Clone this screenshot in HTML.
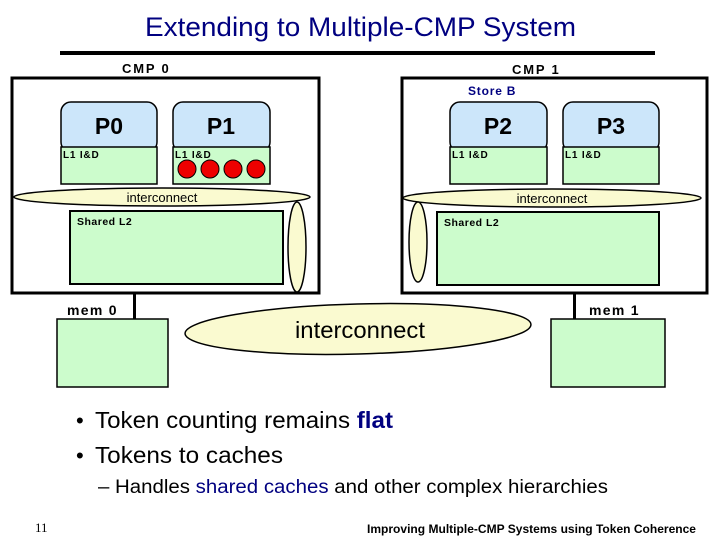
<!DOCTYPE html>
<html><head><meta charset="utf-8"><style>
html,body{margin:0;padding:0;background:#fff;}
svg{display:block;}
.b{font-family:"Liberation Sans",Arial,sans-serif;font-weight:bold;}
.r{font-family:"Liberation Sans",Arial,sans-serif;}
</style></head><body>
<svg width="720" height="540" viewBox="0 0 720 540" xmlns="http://www.w3.org/2000/svg">
<text x="145" y="36" class="r" font-size="27" fill="#000080" textLength="431" lengthAdjust="spacingAndGlyphs">Extending to Multiple-CMP System</text>
<rect x="60" y="51" width="595" height="4" fill="#000"/>
<text x="122" y="73" class="b" font-size="13" letter-spacing="1.8">CMP 0</text>
<text x="512" y="74" class="b" font-size="13" letter-spacing="1.8">CMP 1</text>
<!-- CMP0 -->
<rect x="12" y="78" width="307" height="215" fill="#fff" stroke="#000" stroke-width="3"/>
<rect x="61" y="102" width="96" height="50" rx="10" fill="#cce6fa" stroke="#000" stroke-width="1.5"/>
<rect x="61" y="147" width="96" height="37" fill="#ccfccc" stroke="#000" stroke-width="1.5"/>
<text x="109" y="134" class="b" font-size="23" text-anchor="middle">P0</text>
<text x="63" y="158" class="b" font-size="10" letter-spacing="0.8">L1 I&amp;D</text>
<rect x="173" y="102" width="97" height="50" rx="10" fill="#cce6fa" stroke="#000" stroke-width="1.5"/>
<rect x="173" y="147" width="97" height="37" fill="#ccfccc" stroke="#000" stroke-width="1.5"/>
<text x="221" y="134" class="b" font-size="23" text-anchor="middle">P1</text>
<text x="175" y="158" class="b" font-size="10" letter-spacing="0.8">L1 I&amp;D</text>
<g fill="#e00" stroke="#000" stroke-width="1"><circle cx="187" cy="169" r="9"/><circle cx="210" cy="169" r="9"/><circle cx="233" cy="169" r="9"/><circle cx="256" cy="169" r="9"/></g>
<ellipse cx="162" cy="197" rx="148" ry="9" fill="#fafad0" stroke="#000" stroke-width="1.5"/>
<text x="162" y="202" class="r" font-size="13" text-anchor="middle">interconnect</text>
<rect x="70" y="211" width="213" height="73" fill="#ccfccc" stroke="#000" stroke-width="2"/>
<text x="77" y="225" class="b" font-size="10.5" letter-spacing="0.5">Shared L2</text>
<ellipse cx="297" cy="247" rx="9" ry="45" fill="#fafad0" stroke="#000" stroke-width="1.5"/>
<!-- CMP1 -->
<rect x="402" y="78" width="305" height="215" fill="#fff" stroke="#000" stroke-width="3"/>
<text x="468" y="95" class="b" font-size="12" fill="#000080" letter-spacing="0.8">Store B</text>
<rect x="450" y="102" width="97" height="50" rx="10" fill="#cce6fa" stroke="#000" stroke-width="1.5"/>
<rect x="450" y="147" width="97" height="37" fill="#ccfccc" stroke="#000" stroke-width="1.5"/>
<text x="498" y="134" class="b" font-size="23" text-anchor="middle">P2</text>
<text x="452" y="158" class="b" font-size="10" letter-spacing="0.8">L1 I&amp;D</text>
<rect x="563" y="102" width="96" height="50" rx="10" fill="#cce6fa" stroke="#000" stroke-width="1.5"/>
<rect x="563" y="147" width="96" height="37" fill="#ccfccc" stroke="#000" stroke-width="1.5"/>
<text x="611" y="134" class="b" font-size="23" text-anchor="middle">P3</text>
<text x="565" y="158" class="b" font-size="10" letter-spacing="0.8">L1 I&amp;D</text>
<ellipse cx="552" cy="198" rx="149" ry="9" fill="#fafad0" stroke="#000" stroke-width="1.5"/>
<text x="552" y="203" class="r" font-size="13" text-anchor="middle">interconnect</text>
<rect x="437" y="212" width="222" height="73" fill="#ccfccc" stroke="#000" stroke-width="2"/>
<text x="444" y="226" class="b" font-size="10.5" letter-spacing="0.5">Shared L2</text>
<ellipse cx="418" cy="242" rx="9" ry="40" fill="#fafad0" stroke="#000" stroke-width="1.5"/>
<!-- mem -->
<rect x="133" y="292" width="3" height="27" fill="#000"/>
<text x="67" y="315" class="b" font-size="14" letter-spacing="1.3">mem 0</text>
<rect x="57" y="319" width="111" height="68" fill="#ccfccc" stroke="#000" stroke-width="1.5"/>
<rect x="573" y="292" width="3" height="27" fill="#000"/>
<text x="589" y="315" class="b" font-size="14" letter-spacing="1.3">mem 1</text>
<rect x="551" y="319" width="114" height="68" fill="#ccfccc" stroke="#000" stroke-width="1.5"/>
<ellipse cx="358" cy="329" rx="173" ry="25" transform="rotate(-1.5 358 329)" fill="#fafad0" stroke="#000" stroke-width="1.5"/>
<text x="295" y="338" class="r" font-size="23" textLength="130" lengthAdjust="spacingAndGlyphs">interconnect</text>
<!-- bullets -->
<text x="76" y="428" class="r" font-size="22">•</text>
<text x="95" y="428" class="r" font-size="23" textLength="298" lengthAdjust="spacingAndGlyphs">Token counting remains <tspan font-weight="bold" fill="#000080">flat</tspan></text>
<text x="76" y="463" class="r" font-size="22">•</text>
<text x="95" y="463" class="r" font-size="23" textLength="188" lengthAdjust="spacingAndGlyphs">Tokens to caches</text>
<text x="98" y="493" class="r" font-size="19" textLength="510" lengthAdjust="spacingAndGlyphs">– Handles <tspan fill="#000080">shared caches</tspan> and other complex hierarchies</text>
<text x="35" y="532" font-family="Liberation Serif,serif" font-size="13">11</text>
<text x="696" y="533" class="b" font-size="12" text-anchor="end" textLength="329" lengthAdjust="spacingAndGlyphs">Improving Multiple-CMP Systems using Token Coherence</text>
</svg>
</body></html>
